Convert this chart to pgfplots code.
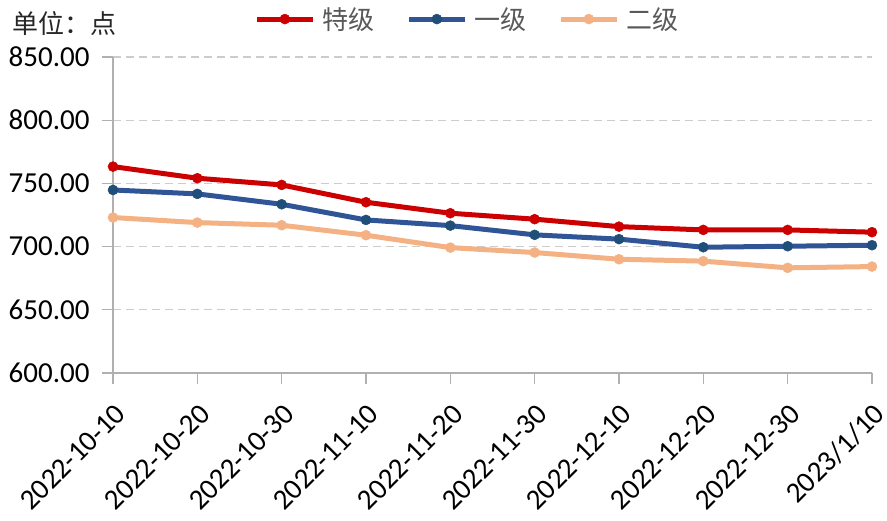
\documentclass[border=0pt]{standalone}
\usepackage{fontspec}
\setmainfont{Carlito}
\newfontfamily\cjk{Noto Sans CJK SC}
\usepackage{pgfplots}
\pgfplotsset{compat=1.18}
\definecolor{cred}{HTML}{CC0000}
\definecolor{cblue}{HTML}{2F5597}
\definecolor{cbluem}{HTML}{1F4E79}
\definecolor{corange}{HTML}{F4B183}
\definecolor{axgray}{HTML}{B0B0B0}
\definecolor{gridgray}{HTML}{CCCCCC}
\definecolor{txtgray}{HTML}{595959}
\begin{document}
\begin{tikzpicture}
\path[use as bounding box] (-113pt,-147pt) rectangle (774pt,373pt);
\begin{axis}[
  scale only axis, width=759pt, height=316pt,
  xmin=0, xmax=9, ymin=600, ymax=850,
  clip=false,
  axis x line*=bottom, axis y line*=left,
  xtick={0,...,9},
  xticklabels={2022-10-10,2022-10-20,2022-10-30,2022-11-10,2022-11-20,2022-11-30,2022-12-10,2022-12-20,2022-12-30,2023/1/10},
  ytick={600,650,...,850},
  ymajorgrids,
  grid style={gridgray, line width=1.2pt, dash pattern=on 8pt off 5pt},
  axis line style={axgray, line width=1.3pt},
  tick style={axgray, line width=1.3pt},
  tick align=outside, major tick length=11pt,
  /pgf/number format/assume math mode=true,
  yticklabel style={font=\fontsize{29}{29}\selectfont, xshift=-9pt, /pgf/number format/.cd, fixed, fixed zerofill, precision=2, 1000 sep={}},
  xticklabel style={font=\fontsize{29}{29}\selectfont, xshift=10pt, yshift=-23pt, rotate=45, anchor=east},
  legend style={draw=none, fill=none, at={(0.186,1.12)}, anchor=west, legend columns=3,
    font=\cjk\fontsize{26}{26}\selectfont, text=txtgray, inner sep=0pt,
    /tikz/every even column/.append style={column sep=30pt},
    /tikz/every odd column/.append style={column sep=5pt}},
  legend image code/.code={\draw[mark repeat=2, mark phase=2, #1] plot coordinates {(0pt,0pt) (28pt,0pt) (56pt,0pt)};},
]
\addplot[cred, line width=5pt, mark=*, mark size=5pt, mark options={solid, fill=cred, draw=cred, line width=0.5pt}] coordinates {
(0,763.3) (1,754.1) (2,748.8) (3,735.1) (4,726.4) (5,721.7) (6,715.8) (7,713.2) (8,713.2) (9,711.4)};
\addlegendentry{特级}
\addplot[cblue, line width=5pt, mark=*, mark size=5pt, mark options={solid, fill=cbluem, draw=cbluem, line width=0.5pt}] coordinates {
(0,744.8) (1,741.7) (2,733.5) (3,721.1) (4,716.6) (5,709.3) (6,705.9) (7,699.5) (8,700.3) (9,701.1)};
\addlegendentry{一级}
\addplot[corange, line width=5pt, mark=*, mark size=5pt, mark options={solid, fill=corange, draw=corange, line width=0.5pt}] coordinates {
(0,723.0) (1,719.0) (2,716.9) (3,709.0) (4,699.2) (5,695.3) (6,690.0) (7,688.5) (8,683.2) (9,684.2)};
\addlegendentry{二级}
\node[anchor=base west, xshift=-104pt, yshift=24pt, font=\cjk\fontsize{26}{26}\selectfont, text=black!85] at (rel axis cs:0,1) {单位：点};
\end{axis}
\end{tikzpicture}
\end{document}
